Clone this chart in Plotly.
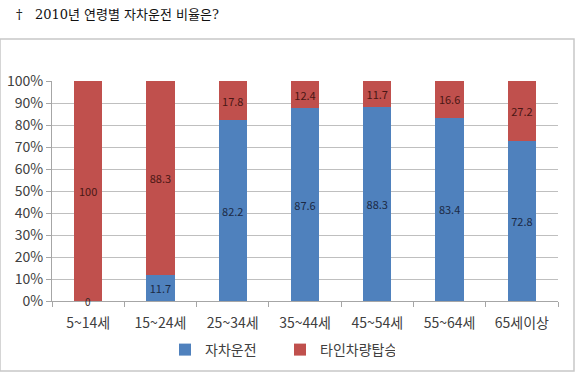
import plotly.graph_objects as go

categories = ["5~14세", "15~24세", "25~34세", "35~44세", "45~54세", "55~64세", "65세이상"]
own_drive = [0, 11.7, 82.2, 87.6, 88.3, 83.4, 72.8]
other_ride = [100, 88.3, 17.8, 12.4, 11.7, 16.6, 27.2]
y_ticks = [0, 10, 20, 30, 40, 50, 60, 70, 80, 90, 100]
y_tick_labels = [f"{v}%" for v in y_ticks]

W, H = 580, 378
L, R, T, B = 52, 558, 81, 301
pw, ph = R - L, B - T

def px_x(x):
    return (x - L) / pw

def px_y(y):
    return (B - y) / ph

FONT = "Noto Sans CJK KR, Malgun Gothic, sans-serif"
BLUE = "#4F81BD"
RED = "#C0504D"

def fmt(v):
    return f"{v:g}"

fig = go.Figure()
fig.add_trace(go.Bar(
    x=categories, y=own_drive, name="자차운전", marker_color=BLUE,
    text=[fmt(v) if v > 0 else "" for v in own_drive],
    textposition="inside", insidetextanchor="middle", textangle=0,
    textfont=dict(color="#1b2a45", size=11, family=FONT),
))
fig.add_trace(go.Bar(
    x=categories, y=other_ride, name="타인차량탑승", marker_color=RED,
    text=[fmt(v) if v > 0 else "" for v in other_ride],
    textposition="inside", insidetextanchor="middle", textangle=0,
    textfont=dict(color="#4a1714", size=11, family=FONT),
))

# zero-valued labels
for c, v in zip(categories, own_drive):
    if v == 0:
        fig.add_annotation(x=c, y=0, text=fmt(v), showarrow=False,
                           font=dict(color="#3a2a2a", size=10, family=FONT),
                           yanchor="middle", xref="x", yref="y")

fig.add_annotation(
    x=px_x(14), y=px_y(15), xref="paper", yref="paper", xanchor="left", yanchor="middle",
    text="†   2010년 연령별 자차운전 비율은?", showarrow=False,
    font=dict(family="DejaVu Serif, Noto Sans CJK KR, serif", size=13, color="#111111"),
)

fig.add_shape(type="rect", xref="paper", yref="paper",
              x0=px_x(0), x1=px_x(574), y0=px_y(371), y1=px_y(39),
              line=dict(color="#c8c8c8", width=1.5), fillcolor="rgba(0,0,0,0)", layer="below")

fig.update_layout(
    template="none",
    width=W, height=H,
    margin=dict(l=L, r=W - R, t=T, b=H - B, pad=0, autoexpand=False),
    barmode="stack", bargap=0.61,
    plot_bgcolor="white", paper_bgcolor="white",
    font=dict(family=FONT, size=13, color="#404040"),
    showlegend=True,
    legend=dict(orientation="h", xref="container", yref="container",
                x=280 / W, xanchor="center", y=(H - 350) / H, yanchor="middle",
                font=dict(size=14, color="#404040"), itemwidth=30, entrywidth=70,
                traceorder="normal", bgcolor="rgba(0,0,0,0)"),
    xaxis=dict(showline=True, linecolor="#a6a6a6", linewidth=1, ticks="outside",
               tickson="boundaries", ticklen=5, tickcolor="#a6a6a6", showgrid=False,
               ticklabelstandoff=9,
               automargin=False, tickfont=dict(size=14, color="#404040")),
    yaxis=dict(range=[0, 100], tickvals=y_ticks, ticktext=y_tick_labels,
               showgrid=True, gridcolor="#bfbfbf", gridwidth=1,
               showline=True, linecolor="#a6a6a6", ticks="outside", ticklen=5,
               tickcolor="#a6a6a6", zeroline=False, automargin=False,
               tickfont=dict(size=14, color="#404040")),
)

fig.write_html("out.html", config={"displayModeBar": False},
               post_script="document.body.style.margin='0';document.body.style.overflow='hidden';")
